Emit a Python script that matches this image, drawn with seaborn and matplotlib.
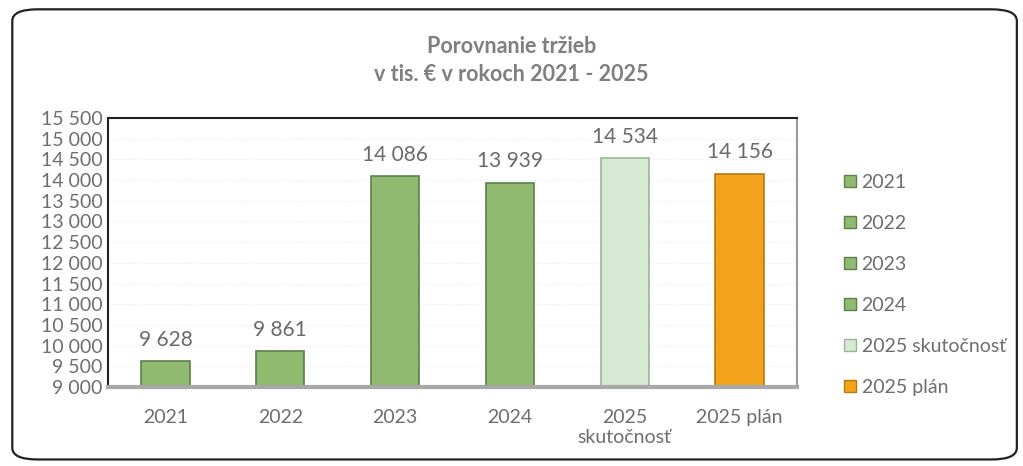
import matplotlib
matplotlib.use("Agg")
import matplotlib.pyplot as plt
import seaborn as sns
from matplotlib.patches import FancyBboxPatch, Patch

# Values (thousands of EUR)
categories = ["2021", "2022", "2023", "2024", "2025\nskutočnosť", "2025 plán"]
legend_labels = ["2021", "2022", "2023", "2024", "2025 skutočnosť", "2025 plán"]
revenue = [9628, 9861, 14086, 13939, 14534, 14156]
bar_colors = ["#8fba6f", "#8fba6f", "#8fba6f", "#8fba6f", "#d6e9d2", "#f2a31b"]
edge_colors = ["#5f7f4a", "#5f7f4a", "#5f7f4a", "#5f7f4a", "#9cb59a", "#b57a10"]

sns.set_style("white")
plt.rcParams['font.family'] = ['Lato', 'DejaVu Sans']

fig = plt.figure(figsize=(10.23, 4.66), dpi=100)
ax = fig.add_axes([0.1056, 0.1695, 0.6735, 0.5775])

sns.barplot(x=categories, y=revenue, hue=categories, palette=bar_colors,
            width=0.42, legend=False, ax=ax, saturation=1)
for bar, ec in zip(ax.patches, edge_colors):
    bar.set_edgecolor(ec)
    bar.set_linewidth(1.2)

ax.set_ylim(9000, 15500)
ax.set_yticks(range(9000, 15501, 500))
ax.set_yticklabels([f"{v:,}".replace(",", " ") for v in range(9000, 15501, 500)])
ax.set_xlim(-0.5, 5.5)
ax.set_xlabel("")
ax.set_ylabel("")
ax.yaxis.grid(True, color="#e3ecf4", linewidth=0.8, linestyle=":")
ax.set_axisbelow(True)

ax.tick_params(axis="y", labelsize=14, length=0, pad=4)
ax.tick_params(axis="x", labelsize=14, length=0, pad=16)
for lbl in ax.get_xticklabels() + ax.get_yticklabels():
    lbl.set_color("#6e6e6e")

for side in ["left", "top"]:
    ax.spines[side].set_color("#222222")
    ax.spines[side].set_linewidth(1.5)
ax.spines["right"].set_color("#9a9a9a")
ax.spines["right"].set_linewidth(1.5)
ax.spines["bottom"].set_color("#a8a8a8")
ax.spines["bottom"].set_linewidth(3)

for container in ax.containers:
    ax.bar_label(container,
                 labels=[f"{v:,.0f}".replace(",", " ") for v in container.datavalues],
                 padding=8, fontsize=15, color="#6a6a6a")

handles = [Patch(facecolor=c, edgecolor=e) for c, e in zip(bar_colors, edge_colors)]
fig.legend(handles, legend_labels, loc="upper left", bbox_to_anchor=(0.808, 0.665),
           frameon=False, fontsize=14, labelspacing=1.24, handlelength=0.6,
           handleheight=0.6, handletextpad=0.3, labelcolor="#6e6e6e")

fig.text(0.5, 0.87, "Porovnanie tržieb\nv tis. € v rokoch 2021 - 2025",
         ha="center", va="center", fontsize=15.5, fontweight="bold",
         color="#7f7f7f", linespacing=1.45)

frame = FancyBboxPatch((0.012, 0.014), 0.982, 0.966, transform=fig.transFigure,
                       boxstyle="round,pad=0,rounding_size=0.025",
                       facecolor="none", edgecolor="#222222", linewidth=1.6)
fig.patches.append(frame)

fig.savefig("out.png", dpi=100, facecolor="white")
